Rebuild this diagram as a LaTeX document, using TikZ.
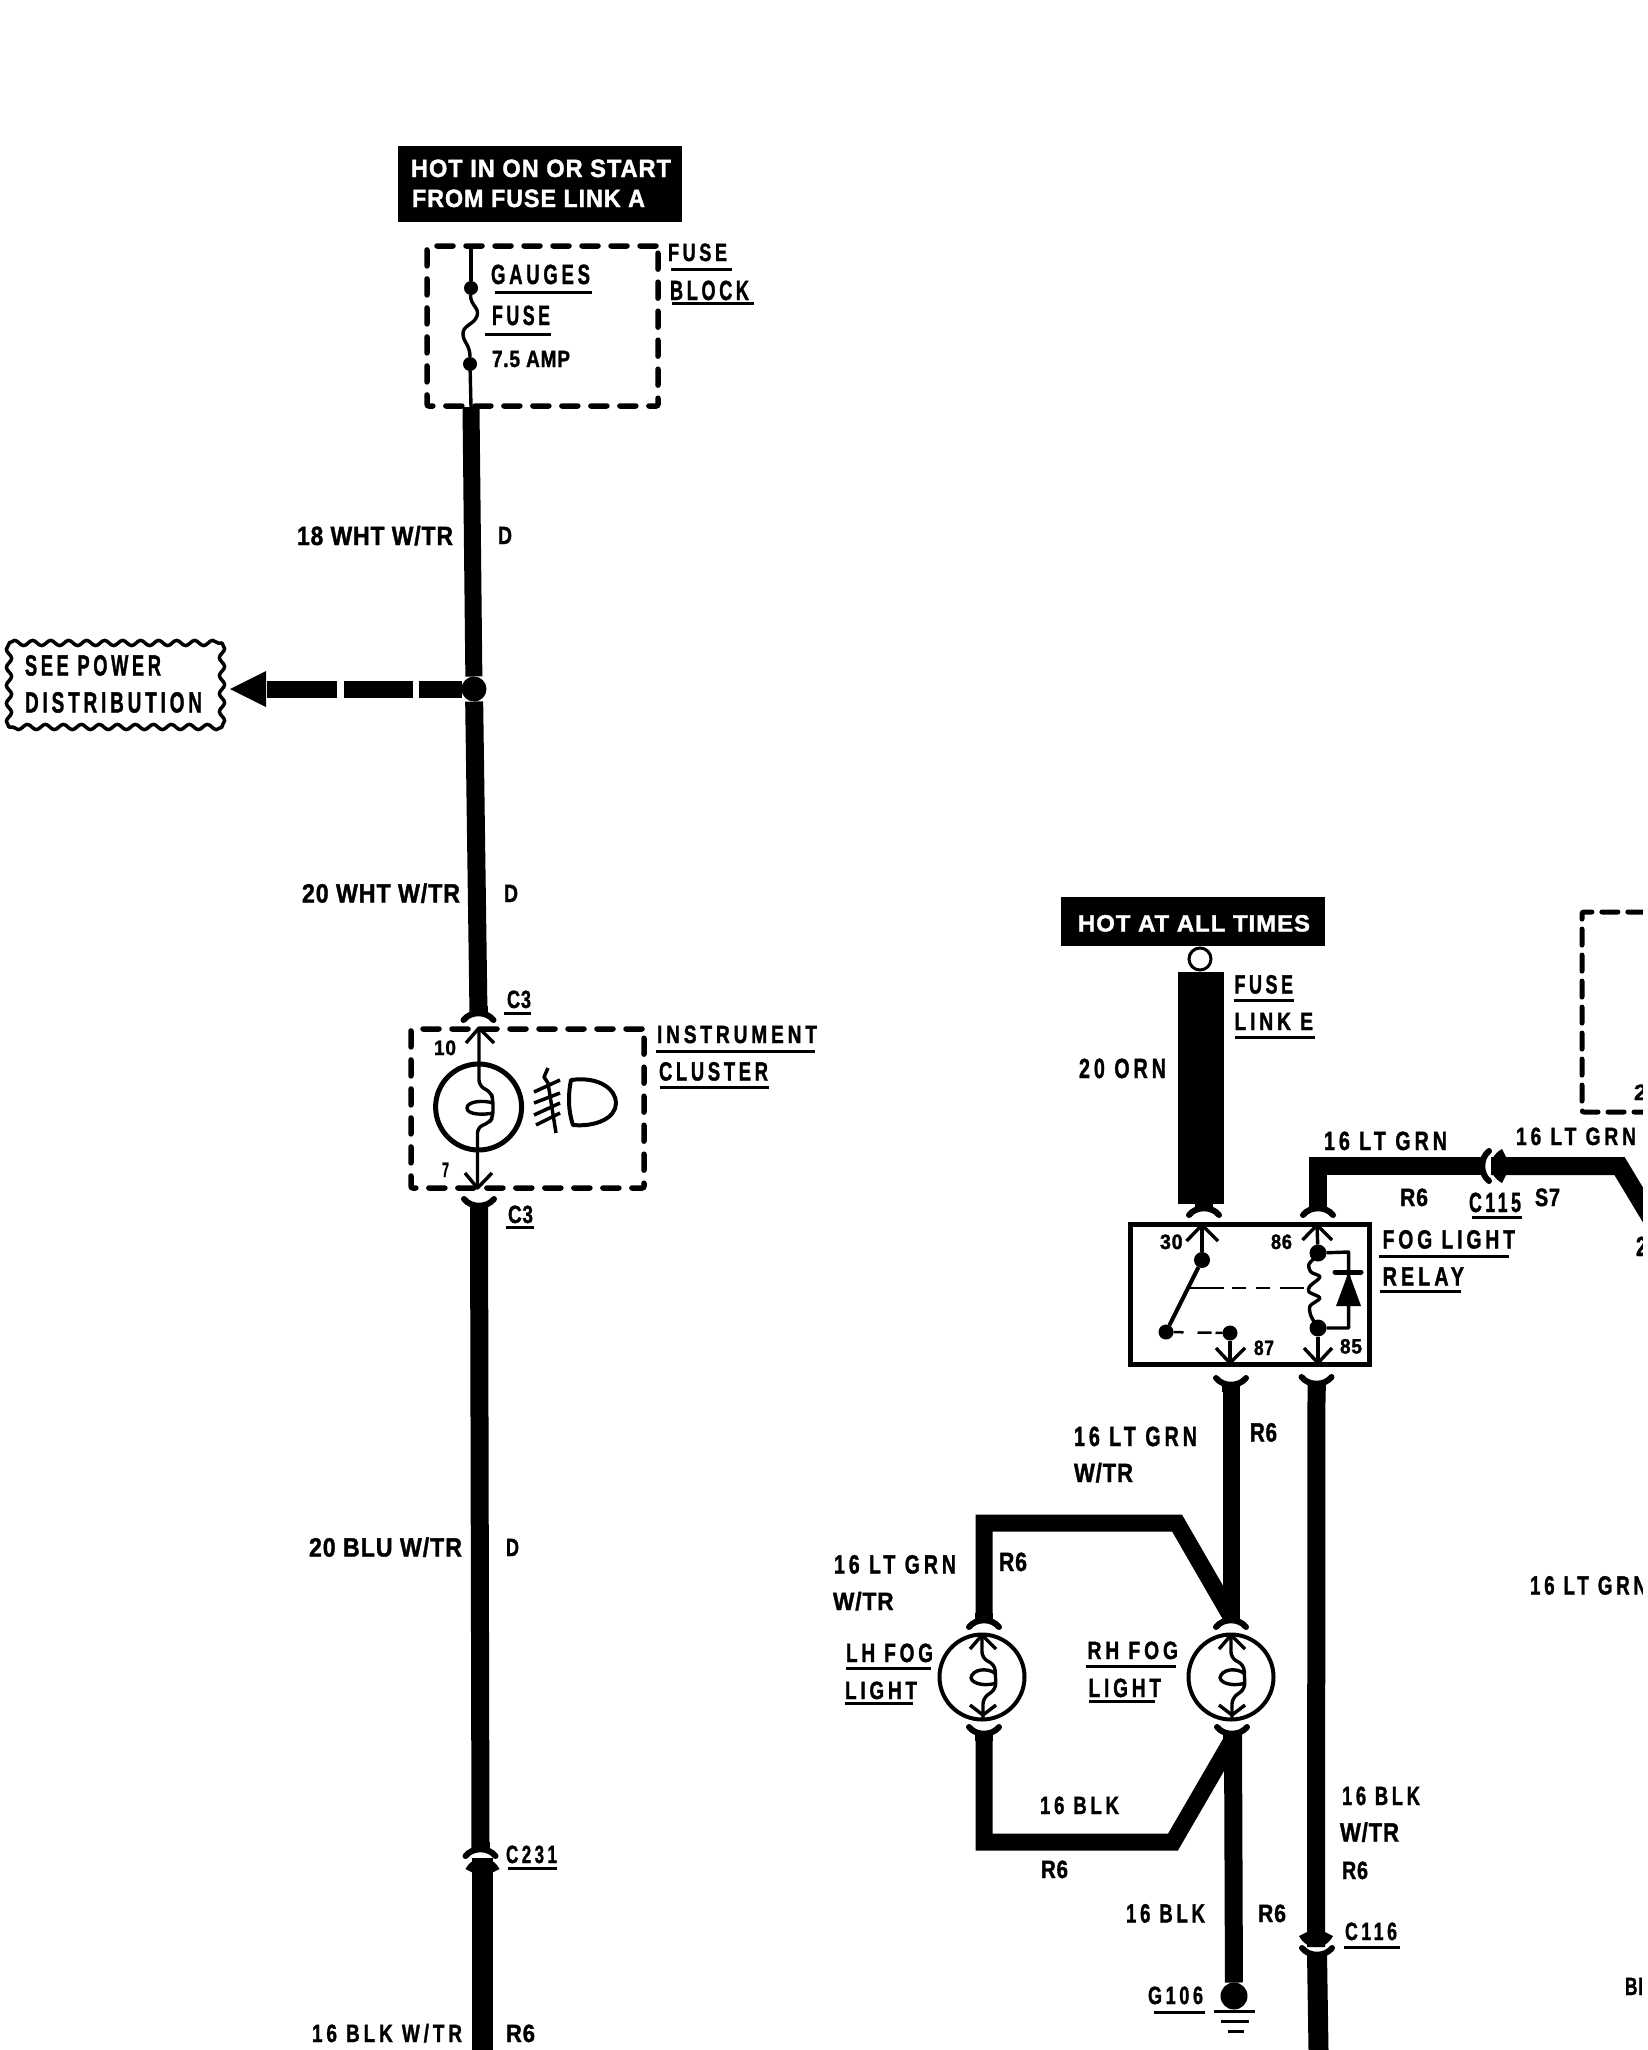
\documentclass[tikz,border=0pt]{standalone}
\usepackage{fontspec}
\usepackage{graphicx}
\usetikzlibrary{decorations.pathmorphing}
\newfontfamily\labfont{Liberation Sans}[LetterSpace=4,FakeBold=1.5]
\newfontfamily\labsfont{Liberation Sans}[LetterSpace=20,FakeBold=1.5]
\newcommand\wide{\labsfont\bfseries}
\newlength\lblw
\newlength\lblh
\tikzset{
  px/.style={line width={#1*0.5pt}},
  wire/.style={px=#1,draw=black,line join=miter,miter limit=10},
  thinw/.style={px=3.4,draw=black,line join=round},
  ulin/.style={px=3,draw=black},
  txt/.style={inner sep=0pt,outer sep=0pt,text=black},
  blackbox/.style={fill=black,inner sep=0pt,outer sep=0pt},
  dbox/.style={draw=black,px=5.5,line cap=round,dash pattern=on 8pt off 6.5pt,rounded corners=1pt,inner sep=0pt,outer sep=0pt},
  fdot/.style={circle,fill=black,inner sep=0pt,outer sep=0pt,minimum size={#1*0.5pt}},
  lampc/.style={circle,draw=black,px=#1,inner sep=0pt,outer sep=0pt},
  wavy/.style={draw=black,px=3.5,line cap=round,decorate,decoration={snake,segment length=9pt,amplitude=1.3pt,post length=0pt,pre length=0pt}}
}
\newcommand\lbl[7][]{%
  \pgfmathsetlength\lblw{(#4-#3)*0.5pt}%
  \pgfmathsetlength\lblh{#6*0.5pt}%
  \node[txt,#1] (#2) at ({(#3+#4)/2},#5) {\resizebox{\lblw}{\lblh}{\labfont\bfseries\raisebox{0pt}[.72em][0pt]{#7}}};}
\newcommand\ul[3]{\draw[ulin] (#1,#3) -- (#2,#3);}
% female plug: fork opening along +y when rot=0
\newcommand\fplug[3]{\begin{scope}[shift={(#1,#2)},rotate=#3]
  \draw[px=6,line cap=round] (-15,5) .. controls (-8,-4) and (8,-4) .. (15,5);
  \fill (-9,-9) -- (9,-9) -- (9,-1) -- (-9,-1) -- cycle;
\end{scope}}
% male plug: apex at origin, pointing along +y when rot=0
\newcommand\mplug[3]{\begin{scope}[shift={(#1,#2)},rotate=#3]
  \fill (0,0) .. controls (-8,0) and (-13,-4) .. (-17,-11) -- (-9,-15) -- (9,-15) -- (17,-11) .. controls (13,-4) and (8,0) .. (0,0) -- cycle;
\end{scope}}
\newcommand\lampin[2]{\begin{scope}[shift={(#1,#2)}]
  \draw[thinw] (-12,-28) -- (0,-42) -- (14,-28);
  \draw[thinw,rounded corners=3pt] (0,-42) -- (0,-19) -- (13,-12) -- (14,12) -- (1,21) -- (1,41);
  \draw[thinw] (14,-3) .. controls (6,-10) and (-10,-8) .. (-11,1) .. controls (-9,8) and (6,9) .. (14,6);
  \draw[thinw] (-12,28) -- (1,38) -- (14,28);
\end{scope}}
\begin{document}
\begin{tikzpicture}[x=0.5pt,y=-0.5pt]
\useasboundingbox (0,0) rectangle (1648,2050);
\fill[white] (0,0) rectangle (1648,2050);

%%% top left label
\node[blackbox,minimum width={284*0.5pt},minimum height={76*0.5pt}] (hota) at (540,184) {};
\lbl[text=white]{hota1}{411}{671}{168}{18}{HOT IN ON OR START}
\lbl[text=white]{hota2}{412}{645}{198}{18}{FROM FUSE LINK A}

%%% fuse block
\node[dbox,minimum width={231*0.5pt},minimum height={160*0.5pt}] (fuseblock) at (542.5,326) {};
\node[fdot=14] (fb1) at (471,288) {};
\node[fdot=14] (fb2) at (470,364) {};
\coordinate (fbt) at (471,245);
\coordinate (fbb) at (471,407);
\draw[thinw] (fbt) -- (fb1);
\draw[thinw] (fb1) .. controls (470,305) and (480,308) .. (477,316) .. controls (474,325) and (462,325) .. (463,335) .. controls (464,343) and (470,345) .. (fb2);
\draw[thinw] (fb2) -- (fbb);
\lbl{gauges}{491}{590}{274}{20}{\wide GAUGES}\ul{495}{592}{292}
\lbl{fusein}{492}{550}{315}{20}{\wide FUSE}\ul{485}{551}{334}
\lbl{amp}{492}{570}{358.5}{17}{7.5 AMP}
\lbl{fb3}{668}{727}{252}{18}{\wide FUSE}\ul{671}{732}{269}
\lbl{fb4}{670}{749}{290}{20}{\wide BLOCK}\ul{672}{754}{303.5}

%%% left main wire
\node[fdot=25] (junc) at (474,689) {};
\coordinate (c3top) at (478.5,1015);
\coordinate (c3bot) at (479,1204);
\coordinate (c231a) at (480.5,1851);
\coordinate (c231b) at (482.5,1858);
\coordinate (leftend) at (482.5,2050);
\draw[wire=17] (fbb) -- (junc);
\draw[wire=18] (junc) -- (c3top);
\draw[wire=18] (c3bot) -- (c231a);
\draw[wire=21] (c231b) -- (leftend);
\fplug{478.5}{1015}{0}
\fplug{479}{1204}{180}
\fplug{480.5}{1851}{0}
\mplug{482.5}{1858}{180}
\lbl{w18}{297}{453}{535.5}{19}{18 WHT W/TR}
\lbl{wd1}{498}{512}{535}{18}{D}
\lbl{w20}{302}{460}{893}{19}{20 WHT W/TR}
\lbl{wd2}{504}{518}{893}{18}{D}
\lbl{w20b}{309}{462}{1547}{19}{20 BLU W/TR}
\lbl{wd3}{506}{519}{1547}{18}{D}
\lbl{c231}{506}{557}{1854}{18}{\wide C231}\ul{508}{557}{1868}
\lbl{w16}{312}{462}{2033}{18}{\wide 16 BLK W/TR}
\lbl{r6a}{506}{535}{2033}{18}{R6}

%%% see power distribution
\coordinate (sp-a) at (9,643);
\coordinate (sp-b) at (222,643);
\coordinate (sp-c) at (222,727);
\coordinate (sp-d) at (9,727);
\draw[wavy] (sp-a) -- (sp-b);
\draw[wavy] (sp-b) -- (sp-c);
\draw[wavy] (sp-c) -- (sp-d);
\draw[wavy] (sp-d) -- (sp-a);
\lbl{sp1}{25}{161}{665}{21}{\wide SEE POWER}
\lbl{sp2}{25}{202}{702}{21}{\wide DISTRIBUTION}
\coordinate (pbase) at (266,689);
\coordinate (ptip) at (230,689);
\draw[wire=17,dash pattern=on 21.5pt off 3pt on 34.5pt off 3.5pt on 35pt off 200pt] (junc) -- (pbase);
\fill (ptip) -- (266,671) -- (266,707) -- cycle;

%%% instrument cluster
\node[dbox,minimum width={233*0.5pt},minimum height={159*0.5pt}] (cluster) at (527.5,1108.5) {};
\node[lampc=5,minimum size={86*0.5pt}] (lamp) at (478.6,1107) {};
\coordinate (cltop) at (479,1028);
\coordinate (clbot) at (477.5,1188);
\draw[thinw] (466,1043) -- (cltop) -- (494,1043);
\draw[thinw,rounded corners=3pt] (cltop) -- (479,1086) -- (491,1092) -- (493,1100) -- (493,1117) -- (489,1123) -- (477.5,1127) -- (clbot);
\draw[thinw] (493,1103) .. controls (484,1100) and (467,1101) .. (467,1108) .. controls (467,1115) and (484,1115) .. (493,1113);
\draw[thinw] (465,1173) -- (clbot) -- (492,1173);
\draw[px=3.5,line join=round] (548,1068) -- (544,1077) -- (548,1083) -- (556,1133);
\draw[px=3.5] (534,1092) -- (560,1080) (534,1103) -- (560,1093) (534,1115) -- (560,1103) (536,1125) -- (560,1113);
\draw[px=4,line join=round] (571,1080) .. controls (600,1076) and (616,1090) .. (616,1103) .. controls (616,1118) and (596,1127) .. (573,1125) .. controls (568,1110) and (568,1095) .. (571,1080) -- cycle;
\lbl{p10}{434}{456}{1047.5}{15}{10}
\lbl{p7}{442}{449}{1169.5}{15}{7}
\lbl{c3a}{507}{531}{999}{18}{C3}\ul{504}{531}{1013}
\lbl{c3b}{508}{533}{1214}{18}{C3}\ul{506}{534}{1227}
\lbl{inst}{657}{817}{1034}{18}{\wide INSTRUMENT}\ul{656}{815}{1051}
\lbl{clus}{659}{768}{1071}{19}{\wide CLUSTER}\ul{660}{769}{1087}

%%% hot at all times
\node[blackbox,minimum width={264*0.5pt},minimum height={49*0.5pt}] (hote) at (1193,921.5) {};
\lbl[text=white]{hot3}{1078}{1310}{923}{17}{HOT AT ALL TIMES}
\node[lampc=3,minimum size={20*0.5pt},minimum height={22*0.5pt}] (ring) at (1200,959) {};
\node[blackbox,minimum width={46*0.5pt},minimum height={232*0.5pt}] (flink) at (1200.7,1088) {};
\fplug{1204}{1210}{0}
\lbl{fl1}{1234.5}{1293}{984}{19}{\wide FUSE}\ul{1234}{1294}{1000}
\lbl{fl2}{1234.5}{1313}{1021}{18}{\wide LINK E}\ul{1234.5}{1315}{1037}
\lbl{orn}{1079}{1166}{1068}{20}{\wide 20 ORN}

%%% relay
\node[draw=black,px=5,minimum width={239*0.5pt},minimum height={140*0.5pt},inner sep=0pt,outer sep=0pt] (relay) at (1250,1294.5) {};
\node[fdot=16] (r30) at (1202,1260) {};
\node[fdot=15] (rarm) at (1166,1332) {};
\node[fdot=15] (r87) at (1230,1333) {};
\node[fdot=17] (r86) at (1318,1253) {};
\node[fdot=17] (r85) at (1318,1328) {};
\coordinate (t30) at (1202,1225);
\coordinate (t86) at (1317,1225);
\coordinate (t87) at (1230,1363);
\coordinate (t85) at (1318,1363);
\draw[thinw] (t30) -- (r30);
\draw[thinw] (1186.5,1241) -- (t30) -- (1218,1241);
\draw[thinw] (t86) -- (r86);
\draw[thinw] (1302.5,1240) -- (t86) -- (1332,1240);
\draw[px=4] (r30) -- (rarm);
\draw[px=2.5,dash pattern=on 17pt off 4pt on 7pt off 5pt on 7pt off 5pt on 12pt] (1190,1288) -- (1306,1288);
\draw[px=2.5,dash pattern=on 5pt off 7pt on 7pt off 2pt on 4pt] (rarm) -- (r87);
\draw[thinw] (r87) -- (t87);
\draw[thinw] (1216,1348) -- (t87) -- (1245,1348);
\draw[thinw] (r85) -- (t85);
\draw[thinw] (1304,1348) -- (t85) -- (1332,1348);
\draw[thinw] plot[smooth] coordinates {(1318,1255) (1309,1264) (1311,1272) (1320,1277) (1310,1286) (1309,1292) (1320,1298) (1310,1306) (1311,1316) (1318,1328)};
\draw[thinw] (r86) -- (1348.6,1252) -- (1348.6,1328) -- (r85);
\draw[px=5,line cap=round] (1335,1272) -- (1361,1272);
\fill (1348.6,1272) -- (1361,1306) -- (1336,1306) -- cycle;
\lbl{n30}{1160}{1182.6}{1241.5}{15}{30}
\lbl{n86}{1271}{1292}{1241.5}{15}{86}
\lbl{n87}{1254}{1274}{1347.5}{15}{87}
\lbl{n85}{1340}{1362}{1346}{15}{85}
\lbl{fog1}{1382.6}{1515}{1239}{19}{\wide FOG LIGHT}\ul{1379}{1509}{1256}
\lbl{fog2}{1382.6}{1464}{1276}{19}{\wide RELAY}\ul{1380}{1461}{1291}

%%% 16 LT GRN to relay
\coordinate (k86) at (1317.5,1210);
\coordinate (kc) at (1317.5,1166);
\coordinate (kl) at (1484,1166);
\coordinate (kr) at (1491,1166);
\coordinate (kb) at (1619.5,1166);
\coordinate (ke) at (1652,1220);
\draw[wire=18] (k86) -- (kc) -- (kl);
\draw[wire=18] (kr) -- (kb) -- (ke);
\fplug{1318}{1210}{0}
\fplug{1484}{1166}{90}
\mplug{1491}{1166}{-90}
\lbl{gr1}{1324}{1447}{1140.5}{19}{\wide 16 LT GRN}
\lbl{gr2}{1516}{1636}{1136}{18}{\wide 16 LT GRN}
\lbl{r6b}{1400}{1428}{1197}{18}{R6}
\lbl{c115}{1469}{1521}{1202}{20}{\wide C115}\ul{1472}{1522}{1217}
\lbl{s7}{1535}{1560}{1197}{18}{S7}

%%% partial dashed box right
\coordinate (dr1) at (1650,912);
\coordinate (dr2) at (1582,912);
\coordinate (dr3) at (1582,1112);
\coordinate (dr4) at (1650,1112);
\draw[px=5,line cap=round,dash pattern=on 8pt off 5pt,rounded corners=1pt] (dr4) -- (dr3) -- (dr2) -- (dr1);
\lbl{d21}{1634}{1647}{1092}{16}{2}
\lbl{d22}{1636}{1647}{1246}{20}{2}
\lbl{gr5}{1530}{1647}{1585}{19}{\wide 16 LT GRN}
\lbl{bl}{1625}{1643}{1986}{18}{BI}

%%% fog light wires
\node[lampc=4,minimum size={85*0.5pt}] (lhl) at (982,1677) {};
\node[lampc=4,minimum size={85*0.5pt}] (rhl) at (1231,1677) {};
\lampin{982}{1677}
\lampin{1231}{1677}
\coordinate (o87) at (1231,1383);
\coordinate (rhin) at (1231,1622);
\coordinate (lhin) at (984,1622);
\coordinate (b1) at (984,1523);
\coordinate (b2) at (1177,1523);
\coordinate (b3) at (1229,1613);
\coordinate (lhout) at (984,1732);
\coordinate (c1) at (984,1842);
\coordinate (c2) at (1173,1842);
\coordinate (c3) at (1231,1742);
\coordinate (rhout) at (1233,1732);
\node[fdot=27] (g106) at (1234,1996) {};
\draw[wire=17] (o87) -- (rhin);
\draw[wire=17] (lhin) -- (b1) -- (b2) -- (b3);
\draw[wire=17] (lhout) -- (c1) -- (c2) -- (c3);
\draw[wire=18] (rhout) -- (g106);
\fplug{1231}{1383}{180}
\fplug{984}{1622}{0}
\fplug{1231}{1622}{0}
\fplug{984}{1732}{180}
\fplug{1232}{1732}{180}
\draw[px=3] (1214,2011) -- (1255,2011) (1221,2021) -- (1249,2021) (1228,2031) -- (1244,2031);
\lbl{g1}{1148}{1203}{1995}{18}{\wide G106}\ul{1154}{1205}{2012}

%%% right wire
\coordinate (o85) at (1316.5,1382);
\coordinate (c116a) at (1316,1947);
\coordinate (c116b) at (1317,1953);
\coordinate (rend) at (1318.5,2050);
\draw[wire=18] (o85) -- (c116a);
\draw[wire=20] (c116b) -- (rend);
\fplug{1316.5}{1382}{180}
\mplug{1316}{1947}{0}
\fplug{1317}{1953}{180}

%%% labels
\lbl{l1}{1074}{1197}{1436}{20}{\wide 16 LT GRN}
\lbl{l2}{1074}{1133}{1472.5}{19}{W/TR}
\lbl{l3}{1250}{1277}{1432}{19}{R6}
\lbl{l4}{834}{956}{1564}{19}{\wide 16 LT GRN}
\lbl{l5}{833}{893.6}{1601}{18}{W/TR}
\lbl{l6}{999}{1027}{1561.5}{19}{R6}
\lbl{l7}{846}{933}{1652.5}{19}{\wide LH FOG}\ul{846}{931}{1668}
\lbl{l8}{845}{917}{1690}{18}{\wide LIGHT}\ul{845}{912.5}{1703.6}
\lbl{l9}{1087.5}{1178}{1650}{18}{\wide RH FOG}\ul{1086}{1176}{1666.5}
\lbl{l10}{1088.6}{1161}{1687.5}{19}{\wide LIGHT}\ul{1088.6}{1155}{1701}
\lbl{l11}{1040}{1119}{1805}{18}{\wide 16 BLK}
\lbl{l12}{1041}{1068}{1869}{18}{R6}
\lbl{l13}{1126}{1205}{1913}{19}{\wide 16 BLK}
\lbl{l14}{1258}{1286}{1913}{18}{R6}
\lbl{l15}{1342}{1420}{1795.5}{19}{\wide 16 BLK}
\lbl{l16}{1340}{1399}{1832}{19}{W/TR}
\lbl{l17}{1342}{1368}{1870}{18}{R6}
\lbl{l18}{1345}{1397}{1931}{18}{\wide C116}\ul{1344}{1400}{1947}

%%% right margin
\fill[white] (1643,0) rectangle (1648,2050);
\end{tikzpicture}
\end{document}
